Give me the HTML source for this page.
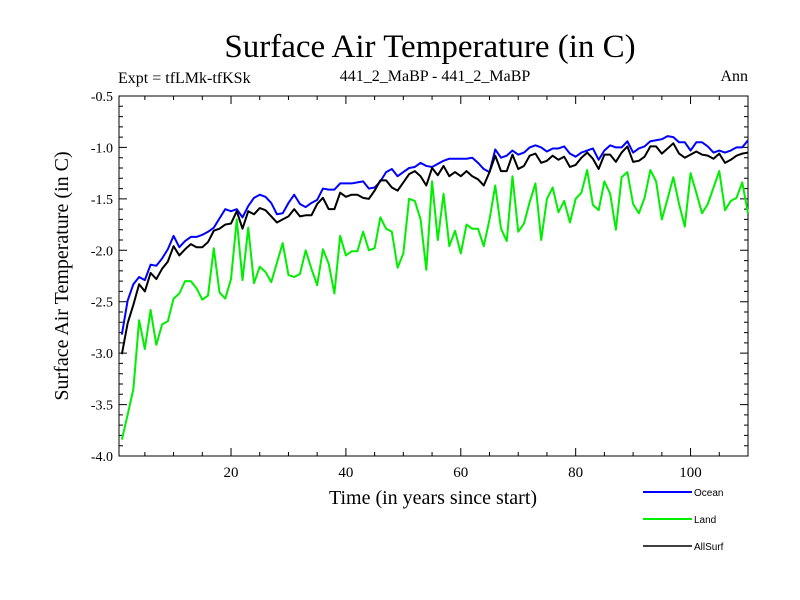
<!DOCTYPE html>
<html><head><meta charset="utf-8"><style>
body{margin:0;background:#fff;}
svg{display:block;}
.serif{font-family:"Liberation Serif",serif;}
.sans{font-family:"Liberation Sans",sans-serif;}
</style></head><body>
<svg id="chart" width="800" height="600" viewBox="0 0 800 600" xmlns="http://www.w3.org/2000/svg">
<rect width="800" height="600" fill="#fff"/>
<text x="430" y="57" text-anchor="middle" class="serif" font-size="33">Surface Air Temperature (in C)</text>
<text x="118" y="83" class="serif" font-size="16">Expt = tfLMk-tfKSk</text>
<text x="435" y="81" text-anchor="middle" class="serif" font-size="16">441_2_MaBP - 441_2_MaBP</text>
<text x="748" y="81" text-anchor="end" class="serif" font-size="16">Ann</text>
<text transform="translate(68,276) rotate(-90)" text-anchor="middle" class="serif" font-size="20">Surface Air Temperature (in C)</text>
<text x="433" y="504" text-anchor="middle" class="serif" font-size="20">Time (in years since start)</text>
<g id="axes"></g>
<g id="series"></g>
<g id="legend"></g>
</svg>
<script>
const years = Array.from({length:110},(_, i)=>i+1);
const ocean = [-2.82,-2.49,-2.33,-2.26,-2.29,-2.14,-2.15,-2.08,-1.99,-1.86,-1.97,-1.91,-1.87,-1.87,-1.85,-1.82,-1.78,-1.69,-1.60,-1.62,-1.60,-1.68,-1.57,-1.49,-1.46,-1.48,-1.54,-1.65,-1.64,-1.54,-1.46,-1.55,-1.58,-1.54,-1.51,-1.40,-1.41,-1.41,-1.35,
-1.35,-1.35,-1.34,-1.33,-1.40,-1.39,-1.33,-1.24,-1.21,-1.28,-1.24,-1.20,-1.19,-1.15,-1.18,-1.19,-1.16,-1.13,-1.11,-1.11,-1.11,-1.11,-1.10,-1.15,-1.21,-1.24,-1.02,-1.10,-1.08,-1.03,-1.07,-1.05,-1.00,-0.98,-1.00,-1.04,
-1.01,-1.01,-0.99,-1.06,-1.09,-1.05,-1.03,-1.01,-1.12,-1.03,-0.98,-1.00,-1.00,-0.94,-1.05,-1.01,-0.99,-0.94,-0.93,-0.92,-0.89,-0.90,-0.95,-0.95,-1.03,-0.95,-0.95,-0.99,-1.05,-1.03,-1.05,-1.03,-1.00,-1.00,-0.93];
const land = [-3.84,-3.60,-3.35,-2.68,-2.96,-2.58,-2.92,-2.72,-2.69,-2.47,-2.42,-2.30,-2.30,-2.37,-2.48,-2.44,-1.98,-2.41,-2.47,-2.28,-1.70,-2.29,-1.78,-2.32,-2.16,-2.21,-2.31,-2.12,-1.93,-2.24,-2.26,-2.23,-2.00,-2.18,-2.34,-1.99,-2.13,-2.42,
-1.86,-2.05,-2.01,-2.01,-1.82,-2.00,-1.98,-1.68,-1.79,-1.82,-2.17,-2.03,-1.50,-1.52,-1.70,-2.19,-1.33,-1.90,-1.45,-1.96,-1.81,-2.03,-1.75,-1.79,-1.79,-1.96,-1.70,-1.37,-1.79,-1.91,-1.28,-1.82,-1.74,-1.53,-1.35,-1.90,-1.50,
-1.39,-1.63,-1.52,-1.73,-1.50,-1.44,-1.22,-1.56,-1.61,-1.33,-1.45,-1.80,-1.29,-1.24,-1.55,-1.64,-1.49,-1.22,-1.33,-1.70,-1.50,-1.29,-1.55,-1.77,-1.25,-1.44,-1.64,-1.55,-1.39,-1.23,-1.61,-1.52,-1.49,-1.34,-1.64];
const allSurf = [-3.01,-2.71,-2.53,-2.33,-2.40,-2.22,-2.28,-2.18,-2.11,-1.96,-2.05,-1.99,-1.94,-1.97,-1.97,-1.92,-1.81,-1.79,-1.75,-1.74,-1.62,-1.79,-1.62,-1.65,-1.59,-1.61,-1.67,-1.73,-1.70,-1.67,-1.60,-1.67,-1.66,-1.66,-1.55,-1.49,-1.60,
-1.60,-1.44,-1.48,-1.46,-1.46,-1.49,-1.50,-1.42,-1.32,-1.32,-1.39,-1.42,-1.34,-1.26,-1.23,-1.28,-1.37,-1.20,-1.27,-1.18,-1.28,-1.24,-1.28,-1.23,-1.28,-1.31,-1.37,-1.24,-1.08,-1.23,-1.23,-1.07,-1.21,-1.18,-1.08,-1.06,-1.15,-1.13,
-1.08,-1.12,-1.09,-1.19,-1.17,-1.10,-1.05,-1.11,-1.21,-1.07,-1.07,-1.14,-1.05,-0.99,-1.14,-1.13,-1.09,-0.99,-0.99,-1.06,-1.01,-0.96,-1.06,-1.10,-1.07,-1.04,-1.07,-1.08,-1.11,-1.06,-1.15,-1.12,-1.08,-1.06,-1.05];
const xTicks = [20,40,60,80,100];
const yTicks = [-0.5,-1.0,-1.5,-2.0,-2.5,-3.0,-3.5,-4.0];
const seriesNames = ["Ocean","Land","AllSurf"];

const L=119,R=748,T=96,B=456, X0=0.5,X1=110, Y0=-4.0,Y1=-0.5;
const NS="http://www.w3.org/2000/svg";
function sx(v){return L+(v-X0)/(X1-X0)*(R-L);}
function sy(v){return B-(v-Y0)/(Y1-Y0)*(B-T);}
function mk(tag,attrs,parent){const e=document.createElementNS(NS,tag);for(const k in attrs)e.setAttribute(k,attrs[k]);parent.appendChild(e);return e;}
const axes=document.getElementById('axes');
const frame=mk('rect',{x:L,y:T,width:R-L,height:B-T,fill:'none',stroke:'#000','stroke-width':1},axes);


let tp='';
for(let v=5;v<=110;v+=5){const x=sx(v);const len=(v%20===0)?8:4;tp+=`M${x} ${B}V${B-len}M${x} ${T}V${T+len}`;}
for(let i=0;i<=35;i++){const v=-4.0+i*0.1;const y=sy(v);const len=(i%5===0)?8:4;tp+=`M${L} ${y}H${L+len}M${R} ${y}H${R-len}`;}
const ticks=mk('path',{d:tp,stroke:'#000','stroke-width':1,fill:'none'},axes);


xTicks.forEach(v=>{const t=mk('text',{x:sx(v),y:B+21,'text-anchor':'middle','font-size':15,'font-family':'Liberation Serif, serif'},axes);t.textContent=v;

});
yTicks.forEach(v=>{const t=mk('text',{x:L-6,y:sy(v)+5,'text-anchor':'end','font-size':14,'font-family':'Liberation Serif, serif'},axes);t.textContent=v.toFixed(1);

});
const colors=['#0000ff','#00ee00','#000000'];
const data=[ocean,land,allSurf];
const g=document.getElementById('series');
data.forEach((arr,si)=>{
  const d=arr.map((v,i)=>(i?'L':'M')+sx(years[i]).toFixed(2)+' '+sy(v).toFixed(2)).join('');
  const p=mk('path',{d:d,fill:'none',stroke:colors[si],'stroke-width':2,'stroke-linejoin':'round'},g);
  
  
});
const lg=document.getElementById('legend');
seriesNames.forEach((n,i)=>{
  const y=492+i*27;
  const ln=mk('line',{x1:643,x2:692,y1:y,y2:y,stroke:colors[i],'stroke-width':i===2?1.5:2},lg);
  
  
  const t=mk('text',{x:694,y:y+4,'font-size':10,'font-family':'Liberation Sans, sans-serif'},lg);
  t.textContent=n;
  
  
});
</script>
</body></html>
